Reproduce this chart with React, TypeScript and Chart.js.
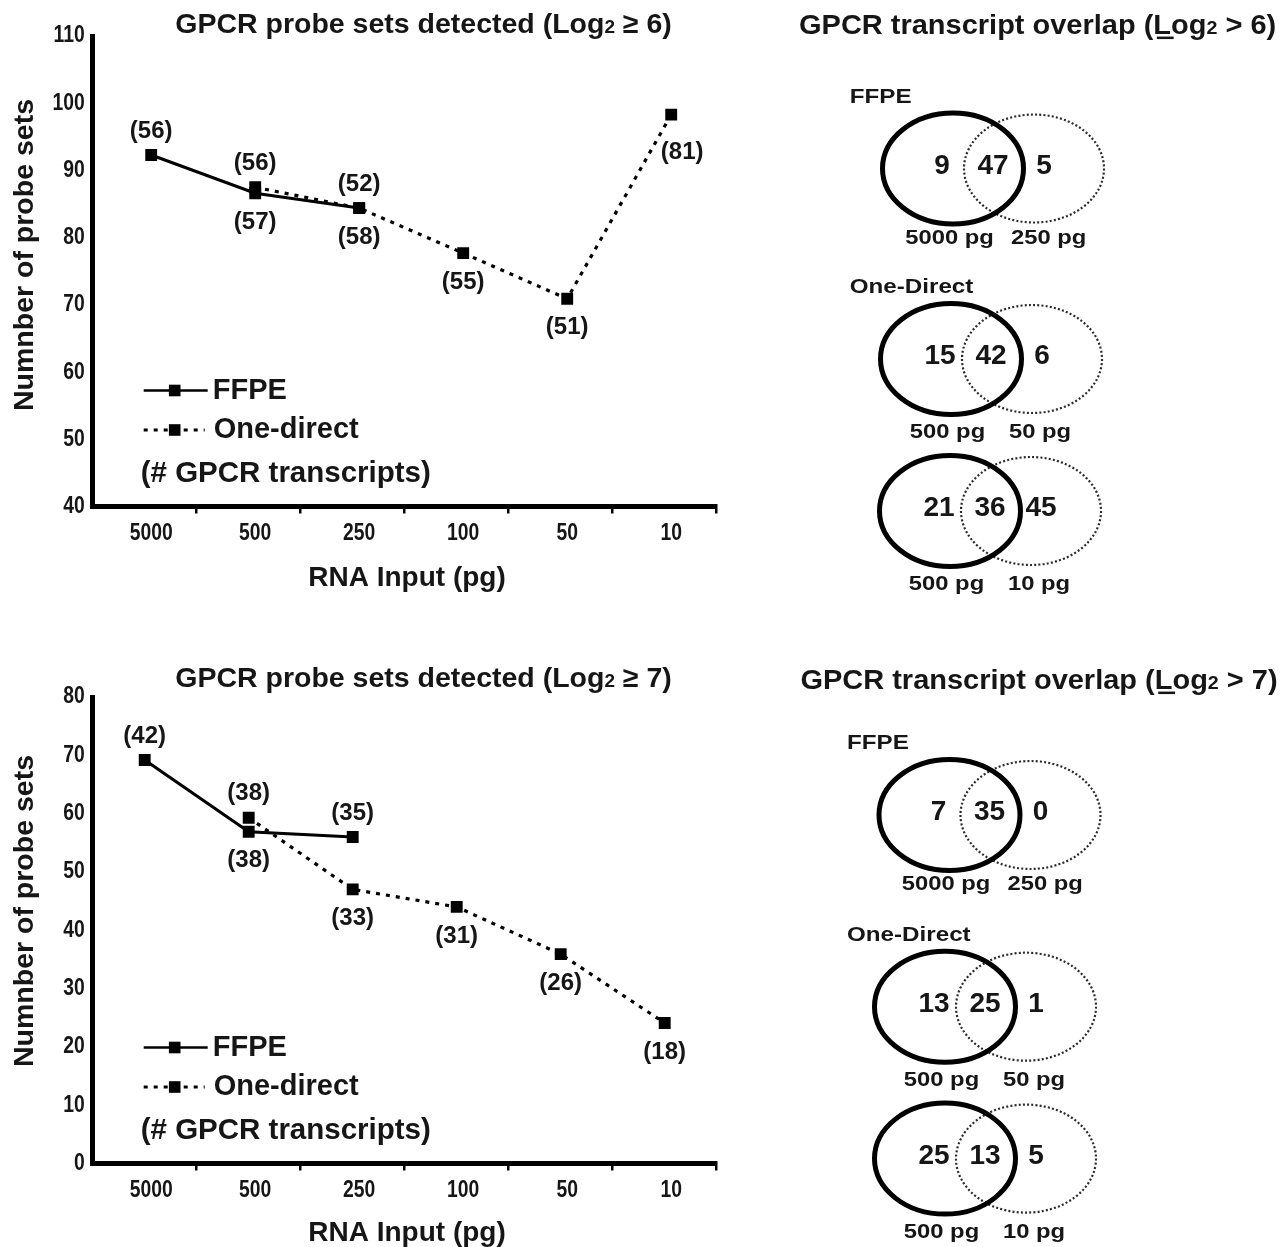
import React, { useEffect, useRef } from 'react';
import { Chart, registerables } from 'chart.js';

Chart.register(...registerables);

// ---------------- data ----------------
const rnaInputs = ['5000', '500', '250', '100', '50', '10'];
const seriesNames = ['FFPE', 'One-direct'];

const yTicksLog6 = [40, 50, 60, 70, 80, 90, 100, 110];
const ffpeLog6 = [92.3, 86.6, 84.4, null, null, null];
const oneDirectLog6 = [null, 87.5, 84.4, 77.7, 70.9, 98.3];
const ffpeTranscriptsLog6 = ['(56)', '(57)', '(52)', null, null, null];
const oneDirectTranscriptsLog6 = [null, '(56)', '(58)', '(55)', '(51)', '(81)'];

const yTicksLog7 = [0, 10, 20, 30, 40, 50, 60, 70, 80];
const ffpeLog7 = [69.2, 56.9, 56.0, null, null, null];
const oneDirectLog7 = [null, 59.3, 47.0, 44.0, 35.9, 24.1];
const ffpeTranscriptsLog7 = ['(42)', '(38)', '(35)', null, null, null];
const oneDirectTranscriptsLog7 = [null, '(38)', '(33)', '(31)', '(26)', '(18)'];

const vennGroups = ['FFPE', 'One-Direct', ''];
const vennLeftInputs = ['5000 pg', '500 pg', '500 pg'];
const vennRightInputs = ['250 pg', '50 pg', '10 pg'];
const vennLeftOnlyLog6 = [9, 15, 21];
const vennSharedLog6 = [47, 42, 36];
const vennRightOnlyLog6 = [5, 6, 45];
const vennLeftOnlyLog7 = [7, 13, 25];
const vennSharedLog7 = [35, 25, 13];
const vennRightOnlyLog7 = [0, 1, 5];

// ---------------- layout / style ----------------
type Side = 'above' | 'below' | 'right' | null;
const ffpeSideLog6: Side[] = ['above', 'below', 'above', null, null, null];
const odSideLog6: Side[] = [null, 'above', 'below', 'below', 'below', 'right'];
const ffpeSideLog7: Side[] = ['above', 'below', 'above', null, null, null];
const odSideLog7: Side[] = [null, 'above', 'below', 'below', 'below', 'below'];

const SANS = '"Liberation Sans", Arial, Helvetica, sans-serif';
const INK = '#161616';
const TICK_FONT = `bold 23.3px ${SANS}`;
const TICK_SX = 0.83;

function drawText(
  ctx: CanvasRenderingContext2D,
  text: string,
  x: number,
  y: number,
  font: string,
  align: CanvasTextAlign,
  sx = 1,
) {
  ctx.save();
  ctx.font = font;
  ctx.fillStyle = INK;
  ctx.textAlign = align;
  ctx.textBaseline = 'middle';
  ctx.translate(x, y);
  ctx.scale(sx, 1);
  ctx.fillText(text, 0, 0);
  ctx.restore();
}

function drawLogTitle(
  ctx: CanvasRenderingContext2D,
  pre: string,
  sub: string,
  post: string,
  cx: number,
  cy: number,
  size: number,
  sx: number,
  underlineL: boolean,
) {
  const big = `bold ${size}px ${SANS}`;
  const small = `bold ${Math.round(size * 0.68)}px ${SANS}`;
  ctx.save();
  ctx.font = big;
  const w1 = ctx.measureText(pre).width;
  const w3 = ctx.measureText(post).width;
  ctx.font = small;
  const w2 = ctx.measureText(sub).width;
  const total = (w1 + w2 + w3) * sx;
  const base = cy + size * 0.36;
  ctx.translate(cx - total / 2, base);
  ctx.scale(sx, 1);
  ctx.fillStyle = INK;
  ctx.textAlign = 'left';
  ctx.textBaseline = 'alphabetic';
  ctx.font = big;
  ctx.fillText(pre, 0, 0);
  ctx.font = small;
  ctx.fillText(sub, w1, 0);
  ctx.font = big;
  ctx.fillText(post, w1 + w2, 0);
  if (underlineL) {
    const idx = pre.lastIndexOf('L');
    const xL = ctx.measureText(pre.slice(0, idx)).width;
    const wL = ctx.measureText('L').width;
    ctx.fillRect(xL + wL * 0.2, 2.5, wL * 0.95, 2.5);
  }
  ctx.restore();
}

interface LinePanel {
  yTicks: number[];
  ffpe: (number | null)[];
  od: (number | null)[];
  ffpeLabels: (string | null)[];
  odLabels: (string | null)[];
  ffpeSides: Side[];
  odSides: Side[];
  cmp: string;
  // layout
  width: number;
  height: number;
  areaTop: number;
  areaBottom: number;
  shift: number;
  titleY: number;
  yTitleY: number;
  xTitleY: number;
}

const AREA_LEFT = 92.7;
const AREA_RIGHT = 716.7;
const LABEL_OFFSET = 6.5;

function lineConfig(p: LinePanel): any {
  const n = rnaInputs.length;
  const toPts = (arr: (number | null)[]) => arr.map((v, i) => ({ x: i, y: v }));
  const yMin = p.yTicks[0];
  const yMax = p.yTicks[p.yTicks.length - 1];
  const step = p.yTicks[1] - p.yTicks[0];

  const decor = {
    id: 'panelDecor',
    afterDatasetsDraw(chart: any) {
      const ctx: CanvasRenderingContext2D = chart.ctx;
      const groups: [(string | null)[], Side[]][] = [
        [p.ffpeLabels, p.ffpeSides],
        [p.odLabels, p.odSides],
      ];
      groups.forEach(([labels, sides], d) => {
        const meta = chart.getDatasetMeta(d);
        meta.data.forEach((el: any, i: number) => {
          const t = labels[i];
          if (!t) return;
          const s = sides[i];
          let dx = 0;
          let dy = 0;
          if (s === 'above') dy = -24;
          else if (s === 'below') dy = 29;
          else if (s === 'right') {
            dx = 11;
            dy = 38;
          }
          drawText(ctx, t, el.x + dx, el.y + dy, `bold 24px ${SANS}`, 'center');
        });
      });
    },
    afterDraw(chart: any) {
      const ctx: CanvasRenderingContext2D = chart.ctx;
      const { left, bottom } = chart.chartArea;
      // tick labels (condensed) from the library's scales
      const xs = chart.scales.x;
      xs.ticks.forEach((t: any, i: number) => {
        drawText(ctx, String(t.label), xs.getPixelForTick(i) + LABEL_OFFSET, bottom + 26.8, TICK_FONT, 'center', TICK_SX);
      });
      const ys = chart.scales.y;
      ys.ticks.forEach((t: any) => {
        drawText(ctx, String(t.label), left - 8, ys.getPixelForValue(t.value), TICK_FONT, 'right', TICK_SX);
      });
      // title
      drawLogTitle(ctx, 'GPCR probe sets detected (Log', '2', ` ${p.cmp})`, 423.5, p.titleY, 28.5, 1.0, false);
      // y title
      ctx.save();
      ctx.translate(25, p.yTitleY);
      ctx.rotate(-Math.PI / 2);
      drawText(ctx, 'Numnber of probe sets', 0, 0, `bold 28.5px ${SANS}`, 'center');
      ctx.restore();
      // x title
      drawText(ctx, 'RNA Input (pg)', 407, p.xTitleY, `bold 28px ${SANS}`, 'center');
      // legend
      const ds = chart.data.datasets;
      const rows = [
        { y: bottom - 116, dash: [] as number[], x0: left + 51, x1: left + 115, tx: left + 120, label: ds[0].label },
        { y: bottom - 76.5, dash: [4, 6], x0: left + 51, x1: left + 112, tx: left + 121, label: ds[1].label },
      ];
      rows.forEach((r) => {
        ctx.save();
        ctx.strokeStyle = '#000';
        ctx.lineWidth = r.dash.length ? 3 : 2.5;
        ctx.setLineDash(r.dash);
        ctx.beginPath();
        ctx.moveTo(r.x0, r.y);
        ctx.lineTo(r.x1, r.y);
        ctx.stroke();
        ctx.fillStyle = '#000';
        ctx.fillRect(left + 82 - 5.8, r.y - 5.8, 11.6, 11.6);
        ctx.restore();
        drawText(ctx, r.label, r.tx, r.y, `bold 29px ${SANS}`, 'left');
      });
      drawText(ctx, '(# GPCR transcripts)', left + 48, bottom - 32.5, `bold 29.5px ${SANS}`, 'left');
    },
  };

  return {
    type: 'line',
    data: {
      datasets: [
        {
          label: seriesNames[0],
          data: toPts(p.ffpe),
          xAxisID: 'xd',
          yAxisID: 'y',
          borderColor: '#000',
          borderWidth: 3,
          pointStyle: 'rect',
          pointRadius: 8.4,
          pointBackgroundColor: '#000',
          pointBorderColor: '#000',
          pointBorderWidth: 0,
          tension: 0,
          fill: false,
        },
        {
          label: seriesNames[1],
          data: toPts(p.od),
          xAxisID: 'xd',
          yAxisID: 'y',
          borderColor: '#000',
          borderWidth: 3.2,
          borderDash: [4, 6],
          pointStyle: 'rect',
          pointRadius: 8.4,
          pointBackgroundColor: '#000',
          pointBorderColor: '#000',
          pointBorderWidth: 0,
          tension: 0,
          fill: false,
        },
      ],
    },
    options: {
      animation: false,
      responsive: false,
      events: [],
      layout: { padding: { left: 0, top: p.areaTop, right: p.width - AREA_RIGHT, bottom: 0 } },
      plugins: { legend: { display: false }, tooltip: { enabled: false }, title: { display: false } },
      scales: {
        x: {
          type: 'category',
          labels: rnaInputs,
          position: 'bottom',
          offset: true,
          grid: {
            display: true,
            offset: true,
            drawOnChartArea: false,
            drawTicks: true,
            tickLength: 7,
            tickWidth: 2.5,
            lineWidth: 2.5,
            color: '#000',
            tickColor: (c: any) => (c.index === 0 ? 'rgba(0,0,0,0)' : '#000'),
          },
          border: { display: true, width: 5, color: '#000' },
          ticks: {
            font: { family: SANS, size: 23, weight: 'bold' },
            color: 'rgba(0,0,0,0)',
            padding: 6,
            labelOffset: LABEL_OFFSET,
            maxRotation: 0,
            minRotation: 0,
            autoSkip: false,
          },
          afterFit: (s: any) => {
            s.height = p.height - p.areaBottom;
          },
        },
        xd: {
          type: 'linear',
          display: false,
          min: -0.5 - p.shift,
          max: n - 0.5 - p.shift,
        },
        y: {
          type: 'linear',
          position: 'left',
          min: yMin,
          max: yMax,
          grid: { display: false, drawTicks: false, drawOnChartArea: false },
          border: { display: true, width: 5, color: '#000' },
          ticks: {
            stepSize: step,
            font: { family: SANS, size: 23, weight: 'bold' },
            color: 'rgba(0,0,0,0)',
            padding: 8,
          },
          afterFit: (s: any) => {
            s.width = AREA_LEFT;
          },
        },
      },
    },
    plugins: [decor],
  };
}

interface VennPanel {
  cmp: string;
  leftOnly: number[];
  shared: number[];
  rightOnly: number[];
  // layout
  width: number;
  height: number;
  titleX: number;
  titleY: number;
  groupX: number;
  solids: [number, number][];
}

function vennConfig(v: VennPanel): any {
  const plugin = {
    id: 'venn',
    afterDraw(chart: any) {
      const ctx: CanvasRenderingContext2D = chart.ctx;
      const sx = chart.scales.x;
      const sy = chart.scales.y;
      const X = (a: number) => sx.getPixelForValue(a);
      const Y = (a: number) => sy.getPixelForValue(a);
      drawLogTitle(ctx, 'GPCR transcript overlap (Log', '2', ` ${v.cmp})`, X(v.titleX), Y(v.titleY), 28, 1.035, true);
      const labelDy = [70, 74, 74];
      v.solids.forEach(([cx, cy], i) => {
        const dcx = cx + 81;
        // dotted ellipse
        ctx.save();
        ctx.strokeStyle = '#2a2a2a';
        ctx.lineWidth = 2.2;
        ctx.setLineDash([2, 2.2]);
        ctx.beginPath();
        ctx.ellipse(X(dcx), Y(cy), X(dcx + 70) - X(dcx), Math.abs(Y(cy + 54) - Y(cy)), 0, 0, Math.PI * 2);
        ctx.stroke();
        ctx.restore();
        // solid ellipse
        ctx.save();
        ctx.strokeStyle = '#000';
        ctx.lineWidth = 5;
        ctx.beginPath();
        ctx.ellipse(X(cx), Y(cy), X(cx + 70.5) - X(cx), Math.abs(Y(cy + 55.5) - Y(cy)), 0, 0, Math.PI * 2);
        ctx.stroke();
        ctx.restore();
        // counts
        const numFont = `bold 28px ${SANS}`;
        drawText(ctx, String(v.leftOnly[i]), X(cx - 11), Y(cy - 2.5), numFont, 'center');
        drawText(ctx, String(v.shared[i]), X(cx + 40), Y(cy - 2.5), numFont, 'center');
        drawText(ctx, String(v.rightOnly[i]), X(cx + 91), Y(cy - 2.5), numFont, 'center');
        // inputs
        const lf = `bold 19.5px ${SANS}`;
        drawText(ctx, vennLeftInputs[i], X(cx - 3.5), Y(cy + labelDy[i]), lf, 'center', 1.22);
        drawText(ctx, vennRightInputs[i], X(cx + 58), Y(cy + labelDy[i]), lf, 'left', 1.22);
        // group name
        if (vennGroups[i]) {
          drawText(ctx, vennGroups[i], X(v.groupX), Y(cy - 71.5), `bold 20.5px ${SANS}`, 'left', 1.18);
        }
      });
    },
  };
  return {
    type: 'scatter',
    data: { datasets: [] },
    options: {
      animation: false,
      responsive: false,
      events: [],
      layout: { padding: 0 },
      plugins: { legend: { display: false }, tooltip: { enabled: false } },
      scales: {
        x: { type: 'linear', display: false, min: 0, max: v.width },
        y: { type: 'linear', display: false, min: 0, max: v.height, reverse: true },
      },
    },
    plugins: [plugin],
  };
}

const topLine: LinePanel = {
  yTicks: yTicksLog6,
  ffpe: ffpeLog6,
  od: oneDirectLog6,
  ffpeLabels: ffpeTranscriptsLog6,
  odLabels: oneDirectTranscriptsLog6,
  ffpeSides: ffpeSideLog6,
  odSides: odSideLog6,
  cmp: '≥ 6',
  width: 760,
  height: 620,
  areaTop: 36,
  areaBottom: 506.5,
  shift: 6.5 / 104,
  titleY: 23,
  yTitleY: 255,
  xTitleY: 578,
};

const bottomLine: LinePanel = {
  yTicks: yTicksLog7,
  ffpe: ffpeLog7,
  od: oneDirectLog7,
  ffpeLabels: ffpeTranscriptsLog7,
  odLabels: oneDirectTranscriptsLog7,
  ffpeSides: ffpeSideLog7,
  odSides: odSideLog7,
  cmp: '≥ 7',
  width: 760,
  height: 607,
  areaTop: 57,
  areaBottom: 523.5,
  shift: 0,
  titleY: 37,
  yTitleY: 271,
  xTitleY: 593,
};

const topVenn: VennPanel = {
  cmp: '> 6',
  leftOnly: vennLeftOnlyLog6,
  shared: vennSharedLog6,
  rightOnly: vennRightOnlyLog6,
  width: 523,
  height: 640,
  titleX: 277.6,
  titleY: 24,
  groupX: 89.7,
  solids: [
    [193, 168.5],
    [191, 359],
    [190, 511],
  ],
};

const bottomVenn: VennPanel = {
  cmp: '> 7',
  leftOnly: vennLeftOnlyLog7,
  shared: vennSharedLog7,
  rightOnly: vennRightOnlyLog7,
  width: 523,
  height: 607,
  titleX: 279,
  titleY: 39,
  groupX: 87,
  solids: [
    [189.5, 175],
    [185, 366.7],
    [185, 518.6],
  ],
};

function ChartCanvas(props: { make: () => any; left: number; top: number; width: number; height: number }) {
  const ref = useRef<HTMLCanvasElement>(null);
  useEffect(() => {
    const chart = new Chart(ref.current as HTMLCanvasElement, props.make());
    return () => chart.destroy();
  }, []);
  return (
    <canvas
      ref={ref}
      width={props.width}
      height={props.height}
      style={{ position: 'absolute', left: props.left, top: props.top, width: props.width, height: props.height }}
    />
  );
}

export default function App() {
  return (
    <div style={{ position: 'absolute', left: 0, top: 0, width: 1283, height: 1247, background: '#fff', overflow: 'hidden' }}>
      <ChartCanvas make={() => lineConfig(topLine)} left={0} top={0} width={760} height={620} />
      <ChartCanvas make={() => lineConfig(bottomLine)} left={0} top={640} width={760} height={607} />
      <ChartCanvas make={() => vennConfig(topVenn)} left={760} top={0} width={523} height={640} />
      <ChartCanvas make={() => vennConfig(bottomVenn)} left={760} top={640} width={523} height={607} />
    </div>
  );
}
